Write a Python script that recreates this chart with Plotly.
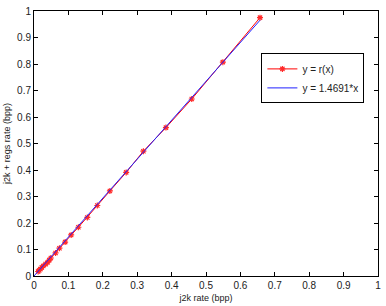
import plotly.graph_objects as go

x_rate = [0.012, 0.015, 0.0185, 0.0226, 0.027, 0.0337, 0.040, 0.0445, 0.049, 0.0627,
          0.074, 0.0905, 0.108, 0.129, 0.155, 0.184, 0.2206, 0.268, 0.318, 0.3835,
          0.4586, 0.549, 0.657]
y_rate = [0.017, 0.021, 0.026, 0.032, 0.038, 0.045, 0.052, 0.060, 0.068, 0.087,
          0.105, 0.128, 0.155, 0.184, 0.221, 0.266, 0.321, 0.391, 0.471, 0.560,
          0.668, 0.807, 0.975]
slope = 1.4691
fit_x = [0, max(x_rate)]
fit_y = [slope * v for v in fit_x]
ticks = [i / 10 for i in range(11)]
tick_text = ["0"] + [f"{t:.1f}" for t in ticks[1:-1]] + ["1"]

fig = go.Figure()
fig.add_trace(go.Scatter(x=x_rate, y=y_rate, mode="lines+markers", name="y = r(x)",
                         line=dict(color="#ff0000", width=1),
                         marker=dict(symbol="asterisk-open", size=5, color="#ff2a2a",
                                     line=dict(color="#ff2a2a", width=1.2))))
fig.add_trace(go.Scatter(x=fit_x, y=fit_y, mode="lines", name="y = 1.4691*x",
                         line=dict(color="#2020ff", width=1)))

axis_common = dict(range=[0, 1], tickvals=ticks, ticktext=tick_text, ticks="inside",
                   ticklen=4, tickcolor="black", showline=True, linecolor="black",
                   linewidth=1, mirror="ticks", showgrid=False, zeroline=False,
                   tickfont=dict(size=10, color="#222222"))
fig.update_layout(
    width=386, height=306,
    margin=dict(l=34, r=6, t=5, b=28),
    paper_bgcolor="white", plot_bgcolor="white",
    font=dict(family="Liberation Sans, Arial, sans-serif", size=10, color="#222222"),
    xaxis=dict(**axis_common, title=dict(text="j2k rate (bpp)", font=dict(size=9), standoff=4)),
    yaxis=dict(**axis_common, title=dict(text="j2k + regs rate (bpp)", font=dict(size=9), standoff=4)),
    legend=dict(x=0.661, y=0.84, xanchor="left", yanchor="top",
                bordercolor="black", borderwidth=1, bgcolor="white",
                font=dict(size=10), tracegroupgap=0, itemwidth=30),
    showlegend=True,
)
fig.write_html("out.html")
